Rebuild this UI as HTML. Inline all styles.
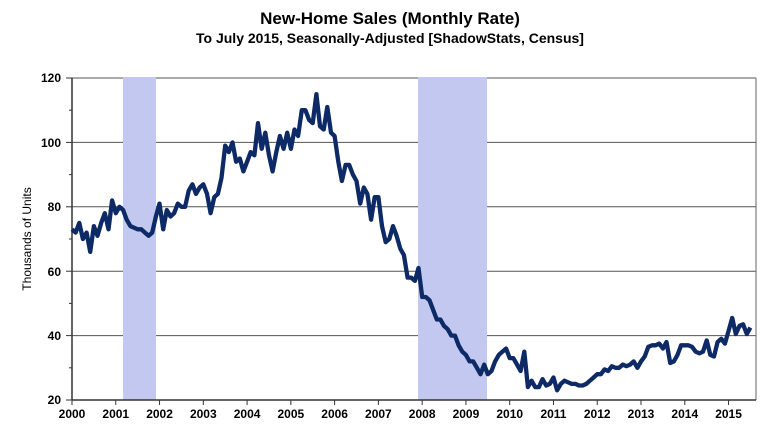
<!DOCTYPE html>
<html><head><meta charset="utf-8"><style>
body{margin:0;background:#fff;width:781px;height:442px;overflow:hidden}
text{font-family:"Liberation Sans",Arial,sans-serif}
</style></head><body>
<svg width="781" height="442" xmlns="http://www.w3.org/2000/svg">
<text x="390" y="24" text-anchor="middle" font-size="17" font-weight="bold">New-Home Sales (Monthly Rate)</text>
<text x="390" y="43" text-anchor="middle" font-size="14" font-weight="bold">To July 2015, Seasonally-Adjusted [ShadowStats, Census]</text>
<g stroke="#555" stroke-width="1">
<line x1="72" y1="78" x2="756" y2="78"/>
<line x1="72" y1="142.4" x2="756" y2="142.4"/>
<line x1="72" y1="206.8" x2="756" y2="206.8"/>
<line x1="72" y1="271.2" x2="756" y2="271.2"/>
<line x1="72" y1="335.6" x2="756" y2="335.6"/>
</g>
<rect x="123" y="77" width="33" height="323" fill="#c2c8f0"/>
<rect x="418" y="77" width="69" height="323" fill="#c2c8f0"/>
<line x1="72" y1="78" x2="72" y2="400" stroke="#333" stroke-width="1.5"/>
<line x1="756" y1="78" x2="756" y2="400" stroke="#666" stroke-width="1"/>
<line x1="72" y1="400" x2="756" y2="400" stroke="#333" stroke-width="1.5"/>
<g stroke="#333" stroke-width="1" id="ticks"></g>
<g font-size="12" font-weight="bold" text-anchor="end">
<text x="61" y="82">120</text><text x="61" y="147">100</text><text x="61" y="211">80</text><text x="61" y="276">60</text><text x="61" y="340">40</text><text x="61" y="404">20</text>
</g>
<g font-size="12" font-weight="bold" text-anchor="middle" id="xl"></g>
<text transform="translate(31,239) rotate(-90)" text-anchor="middle" font-size="12">Thousands of Units</text>
<polyline id="ln" fill="none" stroke="#0d2a66" stroke-width="4.3" stroke-linejoin="round"/>
</svg>
<script>
var d=[73,72,75,70,72,66,74,71,75,78,73,82,
78,80,79,76,74,73.5,73,73,72,71,72,77,
81,73,79,77,78,81,80,80,85,87,84,86,
87,84,78,83,84,89,99,97,100,94,95,91,
94,97,96,106,98,103,96,91,97,102,98,103,
98,104,102,110,110,107,106,115,105,104,111,103,
102,94,88,93,93,90,88,81,86,84,76,83,
83,74,69,70,74,71,67,65,58,58,57,61,
52,52,51,48,45,45,43,42,40,40,37,35,
34,32,32,30,28,31,28,29,32,34,35,36,
33,33,31,29,35,24,26,24,24,26.5,24.5,25,
27,23,25,26,25.5,25,25,24.5,24.5,25,26,27,
28,28,29.5,29,30.5,30,30,31,30.5,31,32,30,
32,33.5,36.5,37,37,37.5,36,38,31.5,32,34,37,
37,37,36.5,35,34.5,35,38.5,34,33.5,38,39,37.5,
41.5,45.5,40.5,43,43.5,40.5,42.5];
var p=[];for(var i=0;i<d.length;i++){p.push((72+i/12*43.77).toFixed(1)+','+(400-(d[i]-20)*3.22).toFixed(1));}
document.getElementById('ln').setAttribute('points',p.join(' '));
var xl=document.getElementById('xl'),tk=document.getElementById('ticks'),ns='http://www.w3.org/2000/svg';
for(var y=0;y<=15;y++){var x=72+y*43.77;var t=document.createElementNS(ns,'text');t.setAttribute('x',x);t.setAttribute('y',418);t.textContent=2000+y;xl.appendChild(t);
var l=document.createElementNS(ns,'line');l.setAttribute('x1',x);l.setAttribute('x2',x);l.setAttribute('y1',400);l.setAttribute('y2',405);tk.appendChild(l);}
for(var v=0;v<=10;v++){var yy=400-v*32.2;var l2=document.createElementNS(ns,'line');l2.setAttribute('x1',v%2?69:66);l2.setAttribute('x2',72);l2.setAttribute('y1',yy);l2.setAttribute('y2',yy);tk.appendChild(l2);}
</script>
</body></html>
